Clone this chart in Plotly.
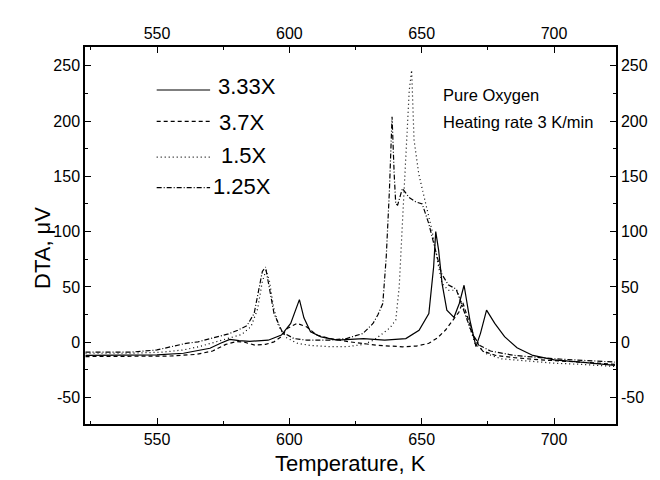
import plotly.graph_objects as go

# ---- data ----
series_names = ["3.33X", "3.7X", "1.5X", "1.25X"]

t_333 = [523, 535, 550, 560, 566, 570, 574, 577.5, 581, 585, 592, 597, 600.5, 602.5, 603.8, 605.5,
         608, 612, 618, 628, 636, 644, 649, 652.7, 654.5, 655.3, 656.4, 657.7, 659.5, 662.2, 664.2,
         666, 668.2, 670.5, 672.2, 674.5, 677.6, 681.3, 686, 692, 700, 710, 723]
v_333 = [-12, -12, -11.5, -10, -7.5, -5.5, -1, 2.5, 1.5, 0.8, 1.8, 6.5, 17, 30, 38.5, 22,
         9.5, 4.8, 1.8, 3.3, 1.8, 3.3, 10.8, 26, 68, 100, 83, 53, 29, 22.5, 35,
         51.5, 20, -4, 8, 29, 17, 5, -5, -12, -16, -18, -21]

t_37 = [523, 540, 555, 565, 571, 576, 580, 583, 587, 591, 594.2, 597, 599.2, 602.9, 606.6, 610.4,
        615.3, 622.8, 632.8, 642.7, 648, 652.7, 656, 659, 662, 664, 665.5, 667.5, 670, 673, 678,
        685, 695, 710, 723]
v_37 = [-13, -13, -12.5, -11, -8, -2, 0.5, 0, -2.7, -2, 0.3, 5, 12.4, 17, 13.8, 6.3,
        3.3, 0.3, -2.7, -4.2, -3.5, -1, 4, 11, 20, 27, 36, 22, 3, -8, -12,
        -14, -16, -18, -20]

t_15 = [523, 540, 552, 560, 566, 572, 577, 582, 585.5, 588, 589.8, 591.2, 592.5, 594, 596, 599,
        603, 608, 615, 622, 628, 632, 635.3, 638, 640.2, 641.5, 642.7, 643.8, 644.6, 645.3, 646.2,
        647.1, 648.9, 651.5, 653.9, 655.8, 657.7, 660.1, 663.3, 665.5, 667.6, 670.1, 674, 680,
        690, 700, 710, 723]
v_15 = [-10, -10, -9, -7, -4, 0, 3, 7, 14, 30, 55, 65, 55, 32, 14, 4,
        -1, -3, -4, -4, -2, 2, 7.9, 13, 20, 50, 107, 160, 198, 228, 246,
        183, 152, 125, 101, 75, 53, 47, 47, 33, 17, -1, -10, -15,
        -17, -19, -20, -22]

t_125 = [523, 540, 550, 556, 561, 565.5, 569, 573, 577, 580.5, 584, 586.7, 588.6, 589.8, 591, 592.3,
         594.2, 597.3, 601.7, 606.6, 615.3, 621.6, 627.8, 631.6, 633.5, 635.3, 636.6, 637.8, 638.8,
         639.6, 640.2, 640.9, 642.7, 645.2, 647.7, 650.2, 652.7, 655, 657.5, 660, 663, 666, 669,
         672, 676, 685, 700, 723]
v_125 = [-9, -9, -7, -4, -1, 0.3, 2.5, 4.8, 7.5, 10.8, 15, 26, 50, 64, 68, 50,
         26, 9.3, 3.3, 1.8, 1.8, 3.3, 7.9, 16.9, 25, 35, 77, 137, 204,
         152, 125, 124, 139, 131, 127, 125, 107, 85, 62, 52, 48, 28, 8,
         -3, -8, -12, -15, -18]

x_ticks = [550, 600, 650, 700]
x_labels = ["550", "600", "650", "700"]
y_ticks = [-50, 0, 50, 100, 150, 200, 250]
y_labels = ["-50", "0", "50", "100", "150", "200", "250"]
x_range = [522.8, 723.4]
y_range = [-74, 267]

# ---- styling ----
FONT = "Arial, Liberation Sans, Helvetica, sans-serif"
dashes = ["solid", "4px,3px", "1px,3px", "5px,2px,1px,2px"]
all_t = [t_333, t_37, t_15, t_125]
all_v = [v_333, v_37, v_15, v_125]
# last series is attached to the mirrored (top/right) axes so those axes get drawn
axis_pairs = [("x", "y"), ("x", "y"), ("x", "y"), ("x2", "y2")]

fig = go.Figure()
for name, t, v, d, (xa, ya) in zip(series_names, all_t, all_v, dashes, axis_pairs):
    fig.add_trace(go.Scatter(x=t, y=v, mode="lines", name=name, xaxis=xa, yaxis=ya,
                             line=dict(color="black", width=1.2, dash=d),
                             showlegend=False))

axis_common = dict(showline=True, linecolor="black", linewidth=1.5, ticks="inside",
                   ticklen=6, tickwidth=1.3, tickcolor="black", showgrid=False, zeroline=False,
                   tickfont=dict(family=FONT, size=16, color="black"),
                   minor=dict(ticks="inside", ticklen=3.5, tickwidth=1.1, tickcolor="black", showgrid=False))

fig.update_layout(
    width=660, height=480,
    margin=dict(l=85, r=37, t=47, b=56),
    paper_bgcolor="white", plot_bgcolor="white",
    xaxis=dict(range=x_range, tickvals=x_ticks, ticktext=x_labels,
               minor_dtick=25, minor_tick0=525, **axis_common),
    xaxis2=dict(range=x_range, tickvals=x_ticks, ticktext=x_labels, overlaying="x", side="top",
                anchor="y", minor_dtick=25, minor_tick0=525, **axis_common),
    yaxis=dict(range=y_range, tickvals=y_ticks, ticktext=y_labels,
               minor_dtick=25, minor_tick0=0, **axis_common),
    yaxis2=dict(range=y_range, tickvals=y_ticks, ticktext=y_labels, overlaying="y", side="right",
                anchor="x", minor_dtick=25, minor_tick0=0, **axis_common),
)

# axis titles
fig.add_annotation(text="Temperature, K", xref="paper", yref="paper", x=0.5, y=-0.106,
                   showarrow=False, font=dict(family=FONT, size=22, color="black"),
                   xanchor="center", yanchor="middle")
fig.add_annotation(text="DTA, μV", xref="paper", yref="paper", x=-0.079, y=0.467,
                   showarrow=False, textangle=-90, font=dict(family=FONT, size=22, color="black"),
                   xanchor="center", yanchor="middle")

# text notes
fig.add_annotation(text="Pure Oxygen", xref="paper", yref="paper", x=0.6695, y=0.8714,
                   showarrow=False, xanchor="left", yanchor="middle",
                   font=dict(family=FONT, size=16.5, color="black"))
fig.add_annotation(text="Heating rate 3 K/min", xref="paper", yref="paper", x=0.6695, y=0.8019,
                   showarrow=False, xanchor="left", yanchor="middle",
                   font=dict(family=FONT, size=16.5, color="black"))

# legend (drawn manually)
leg_line_y = [0.886, 0.8025, 0.708, 0.627]
leg_text_y = [0.894, 0.799, 0.711, 0.629]
leg_text_x = [0.2467, 0.2486, 0.2518, 0.2374]
for name, d, ly, ty, tx in zip(series_names, dashes, leg_line_y, leg_text_y, leg_text_x):
    fig.add_shape(type="line", xref="paper", yref="paper", x0=0.135, x1=0.2356, y0=ly, y1=ly,
                  line=dict(color="black", width=1.2, dash=d))
    fig.add_annotation(text=name, xref="paper", yref="paper", x=tx, y=ty, showarrow=False,
                       xanchor="left", yanchor="middle",
                       font=dict(family=FONT, size=22, color="black"))

fig.write_html("out.html", config={"displayModeBar": False},
               post_script="document.body.style.margin='0';document.body.style.overflow='hidden';")
